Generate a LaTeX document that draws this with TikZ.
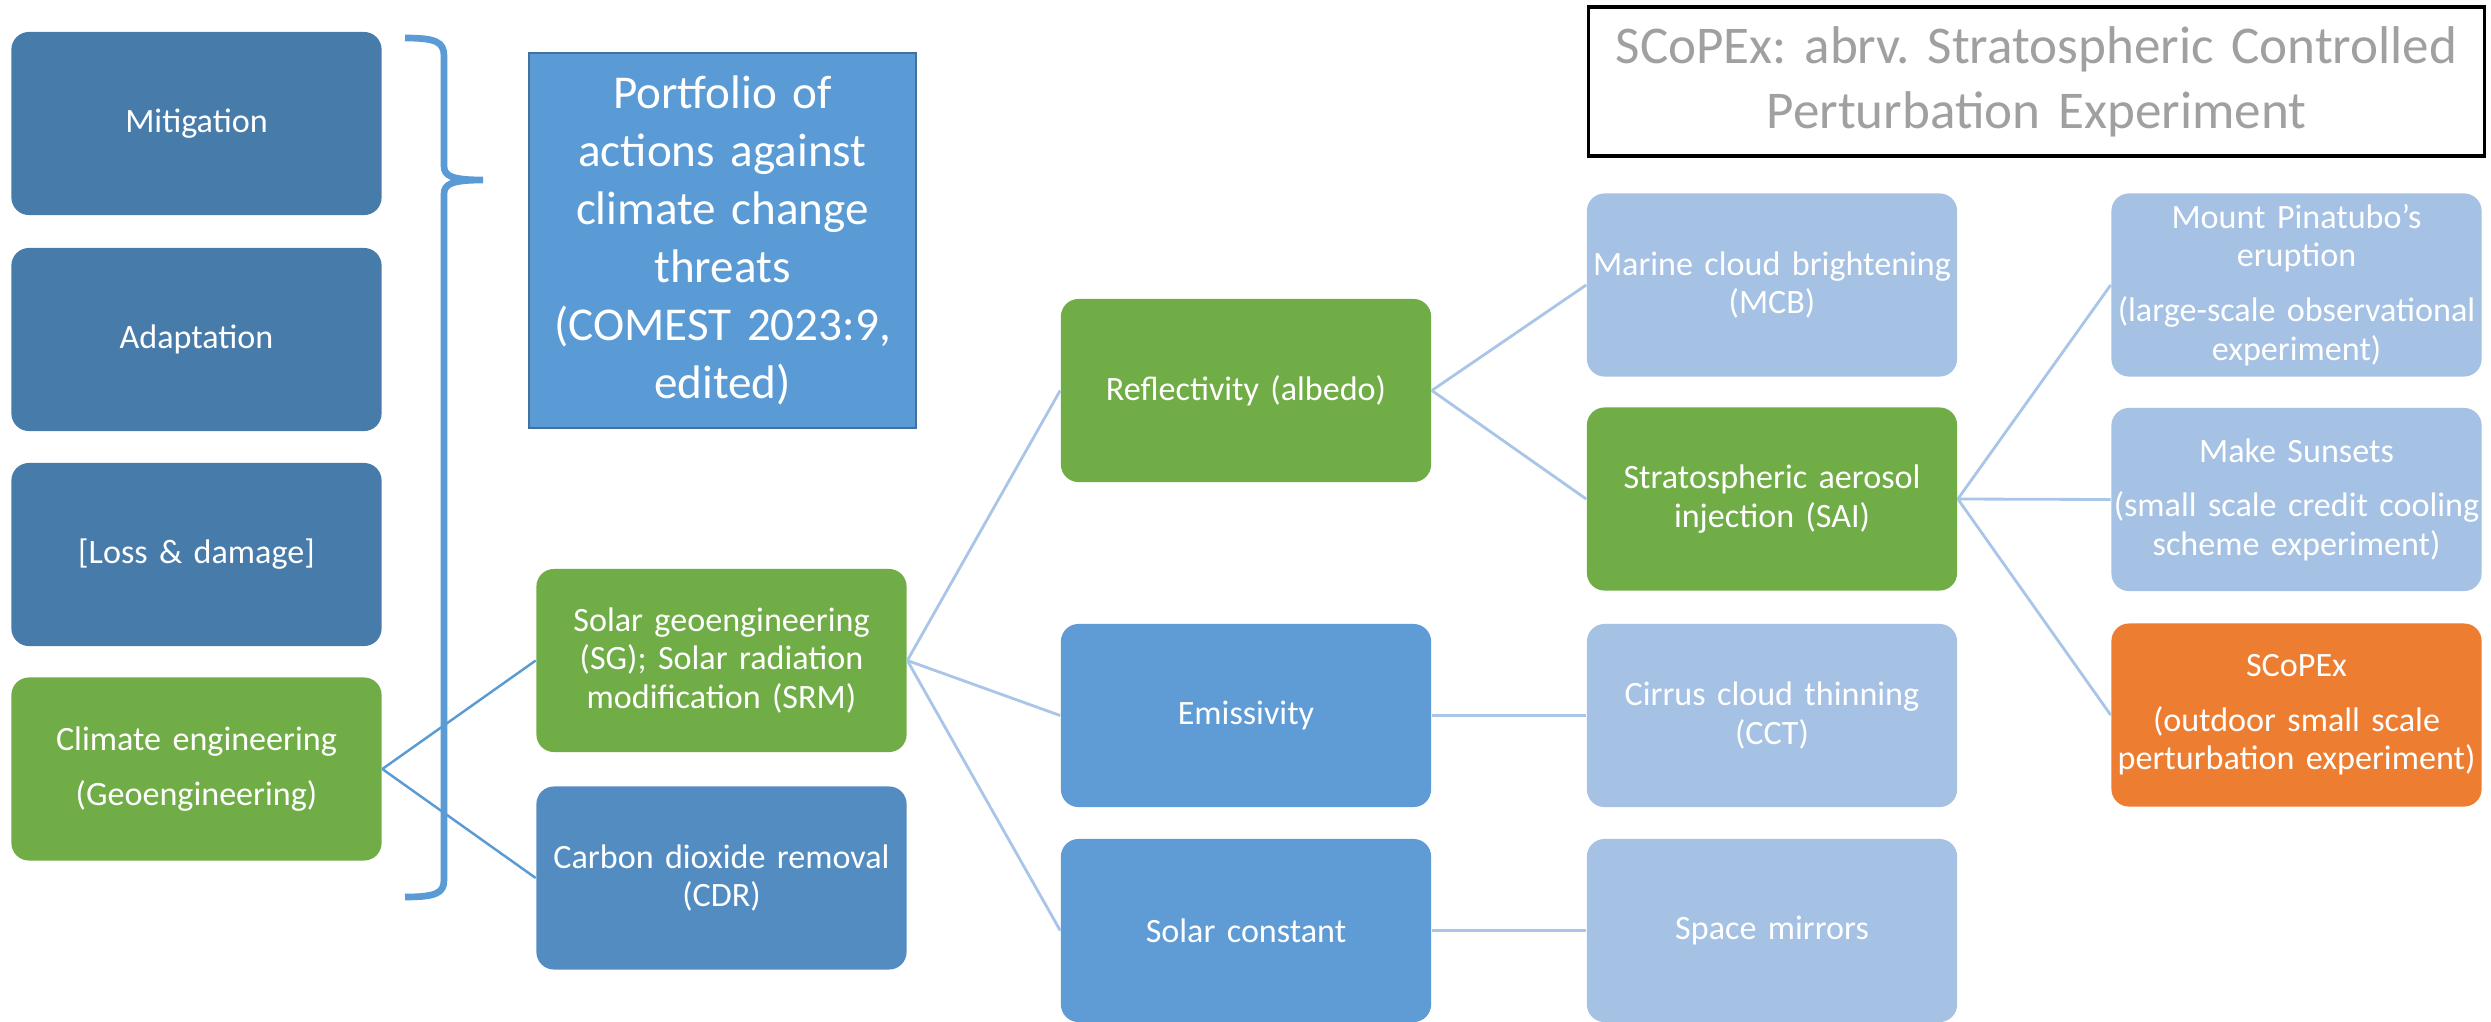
\documentclass[tikz,border=0pt]{standalone}
\usepackage{fontspec}
\setmainfont{Carlito}
\definecolor{dkblue}{HTML}{477BAA}
\definecolor{cdrblue}{HTML}{538CC1}
\definecolor{midblue}{HTML}{5F9BD5}
\definecolor{portblue}{HTML}{5B9BD5}
\definecolor{portedge}{HTML}{41719C}
\definecolor{ltblue}{HTML}{A5C1E4}
\definecolor{grn}{HTML}{70AD47}
\definecolor{orng}{HTML}{ED7D31}
\definecolor{linkdark}{HTML}{5B9BD5}
\definecolor{linklight}{HTML}{A9C5E7}
\definecolor{titlegray}{HTML}{A0A0A0}
\frenchspacing
\begin{document}
\frenchspacing
\begin{tikzpicture}[x=0.01cm,y=-0.01cm,
  box/.style={rounded corners=5pt, minimum width=3.70cm, minimum height=1.83cm,
    text width=3.68cm, align=center, inner sep=0pt, text=white,
    font=\fontsize{9.7}{10.9}\selectfont},
  linkA/.style={draw=linkdark, line width=0.7pt},
  linkB/.style={draw=linklight, line width=0.8pt},
  bracestyle/.style={draw=portblue, line width=1.9pt}]
\useasboundingbox (0,0) rectangle (2491,1021);
\fill[white] (0,0) rectangle (2491,1021);

% brace
\draw[bracestyle] (405,38) .. controls (436,38) and (444,42) .. (444,56) -- (444,166)
  .. controls (444,176) and (452,180) .. (483,180)
  .. controls (452,180) and (444,184) .. (444,194) -- (444,880)
  .. controls (444,893) and (436,897) .. (405,897);

% column 1
\node[box, fill=dkblue] (mit) at (196.5,123.5) {Mitigation};
\node[box, fill=dkblue] (ada) at (196.5,339.5) {Adaptation};
\node[box, fill=dkblue] (loss) at (196.5,554.5) {[Loss \& damage]};
\node[box, fill=grn] (ce) at (196.5,769) {Climate engineering\\[4.7pt](Geoengineering)};

% portfolio
\node[draw=portedge, line width=0.6pt, fill=portblue, minimum width=3.87cm, minimum height=3.75cm,
  text width=3.8cm, align=center, inner sep=0pt, text=white,
  font=\fontsize{13.4}{16.5}\selectfont] (port) at (722.5,240.5)
  {Portfolio of\\actions against\\climate change\\threats\\(COMEST 2023:9,\\edited)};

% title
\node[draw=black, line width=0.9pt, minimum width=8.95cm, minimum height=1.49cm,
  text width=8.9cm, align=center, inner sep=0pt, text=titlegray,
  font=\fontsize{15.1}{18.5}\selectfont] (title) at (2036.5,81.5)
  {SCoPEx: abrv. Stratospheric Controlled\\Perturbation Experiment};

% column 2
\node[box, fill=grn] (sg) at (721.5,660.5) {Solar geoengineering\\(SG); Solar radiation\\modification (SRM)};
\node[box, fill=cdrblue] (cdr) at (721.5,878) {Carbon dioxide removal\\(CDR)};

% column 3
\node[box, fill=grn] (refl) at (1246,390.5) {Reflectivity (albedo)};
\node[box, fill=midblue] (emis) at (1246,715.5) {Emissivity};
\node[box, fill=midblue] (solc) at (1246,930.5) {Solar constant};

% column 4
\node[box, fill=ltblue] (mcb) at (1772,285) {Marine cloud brightening\\(MCB)};
\node[box, fill=grn] (sai) at (1772,499) {Stratospheric aerosol\\injection (SAI)};
\node[box, fill=ltblue] (cct) at (1772,715.5) {Cirrus cloud thinning\\(CCT)};
\node[box, fill=ltblue] (mir) at (1772,930.5) {Space mirrors};

% column 5
\node[box, fill=ltblue] (pin) at (2296.5,285) {Mount Pinatubo’s\\eruption\\[4.7pt](large-scale observational\\experiment)};
\node[box, fill=ltblue] (sun) at (2296.5,499.5) {Make Sunsets\\[4.7pt](small scale credit cooling\\scheme experiment)};
\node[box, fill=orng] (scopex) at (2296.5,715) {SCoPEx\\[4.7pt](outdoor small scale\\perturbation experiment)};

% connectors
\draw[linkA] (ce.east) -- (sg.west);
\draw[linkA] (ce.east) -- (cdr.west);
\draw[linkB] (sg.east) -- (refl.west);
\draw[linkB] (sg.east) -- (emis.west);
\draw[linkB] (sg.east) -- (solc.west);
\draw[linkB] (refl.east) -- (mcb.west);
\draw[linkB] (refl.east) -- (sai.west);
\draw[linkB] (emis.east) -- (cct.west);
\draw[linkB] (solc.east) -- (mir.west);
\draw[linkB] (sai.east) -- (pin.west);
\draw[linkB] (sai.east) -- (sun.west);
\draw[linkB] (sai.east) -- (scopex.west);
\end{tikzpicture}
\end{document}
